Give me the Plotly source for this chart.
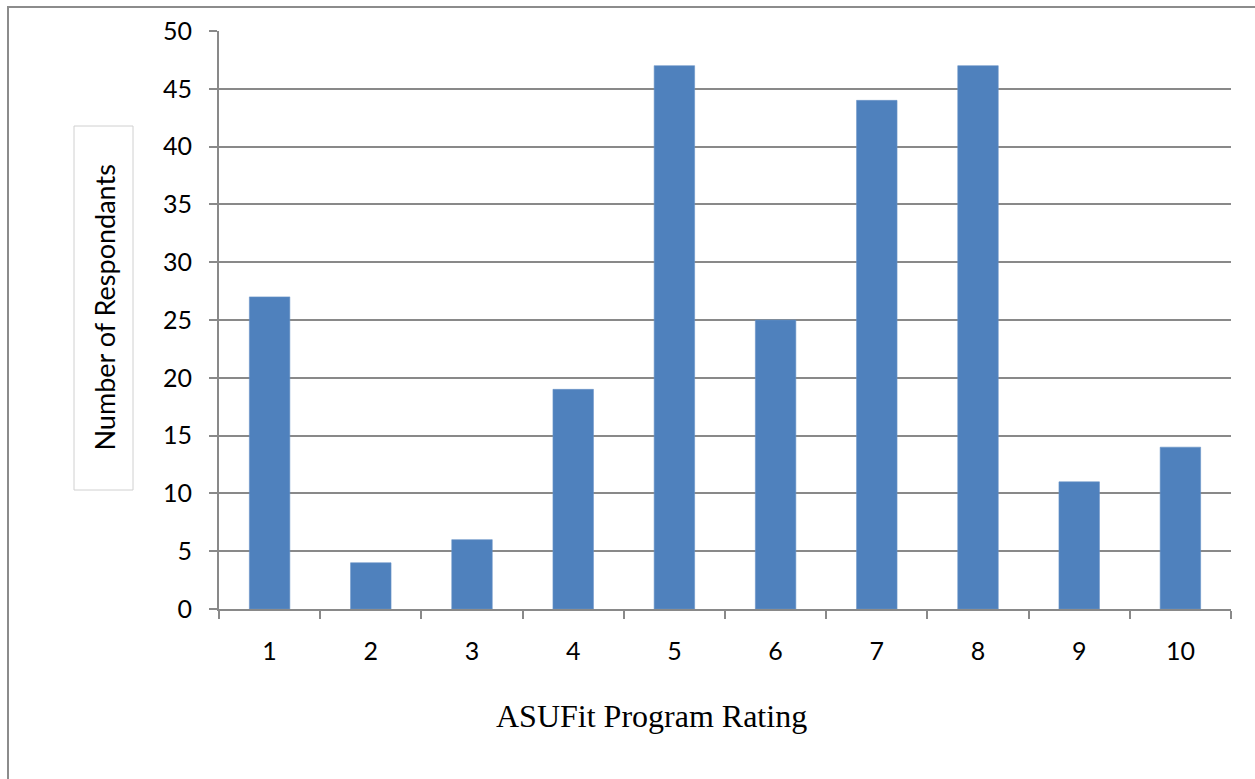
import plotly.graph_objects as go

# Survey results: how respondents rated the ASUFit program (1-10)
ratings = ["1", "2", "3", "4", "5", "6", "7", "8", "9", "10"]
respondents = [27, 4, 6, 19, 47, 25, 44, 47, 11, 14]
y_ticks = [0, 5, 10, 15, 20, 25, 30, 35, 40, 45, 50]

W, H = 1255, 779
L, R, T, B = 219, 24, 31, 170
pw, ph = W - L - R, H - T - B


def px_x(x):
    return (x - L) / pw


def px_y(y):
    return (H - B - y) / ph


grid = "#898989"
label_font = dict(family="Lato, Carlito, sans-serif", size=25, color="#000000")

fig = go.Figure(
    go.Bar(
        x=ratings,
        y=respondents,
        marker=dict(color="#4F81BD", line=dict(color="#6A93C8", width=0.6)),
        hoverinfo="x+y",
    )
)

fig.update_layout(
    width=W,
    height=H,
    margin=dict(l=L, r=R, t=T, b=B, pad=0),
    paper_bgcolor="white",
    plot_bgcolor="white",
    bargap=0.6,
    showlegend=False,
    xaxis=dict(
        type="category",
        showline=True,
        linecolor=grid,
        linewidth=2,
        showgrid=False,
        ticks="outside",
        tickson="boundaries",
        ticklen=8,
        tickwidth=2,
        tickcolor=grid,
        tickfont=label_font,
        ticklabelstandoff=19,
    ),
    yaxis=dict(
        range=[0, 50],
        tickvals=y_ticks,
        showline=True,
        linecolor=grid,
        linewidth=2,
        showgrid=True,
        gridcolor=grid,
        gridwidth=2,
        zeroline=False,
        ticks="outside",
        ticklen=8,
        tickwidth=2,
        tickcolor=grid,
        tickfont=label_font,
        ticklabelstandoff=12,
    ),
    shapes=[
        # chart frame
        dict(type="rect", xref="paper", yref="paper",
             x0=px_x(8), x1=px_x(W + 50), y0=px_y(H + 50), y1=px_y(7),
             line=dict(color="#8c8c8c", width=2), fillcolor="rgba(0,0,0,0)", layer="below"),
        # y-axis title box
        dict(type="rect", xref="paper", yref="paper",
             x0=px_x(74), x1=px_x(133), y0=px_y(490), y1=px_y(126),
             line=dict(color="#d0d0d0", width=1), fillcolor="white", layer="below"),
    ],
    annotations=[
        dict(text="Number of Respondants", xref="paper", yref="paper",
             x=px_x(103.5), y=px_y(308), textangle=-90, showarrow=False,
             xanchor="center", yanchor="middle",
             font=dict(family="Lato, Carlito, sans-serif", size=27, color="#000000")),
        dict(text="ASUFit Program Rating", xref="paper", yref="paper",
             x=px_x(651), y=px_y(716), showarrow=False,
             xanchor="center", yanchor="middle",
             font=dict(family="Liberation Serif, Times New Roman, serif", size=32, color="#000000")),
    ],
)

fig.write_html("out.html")
